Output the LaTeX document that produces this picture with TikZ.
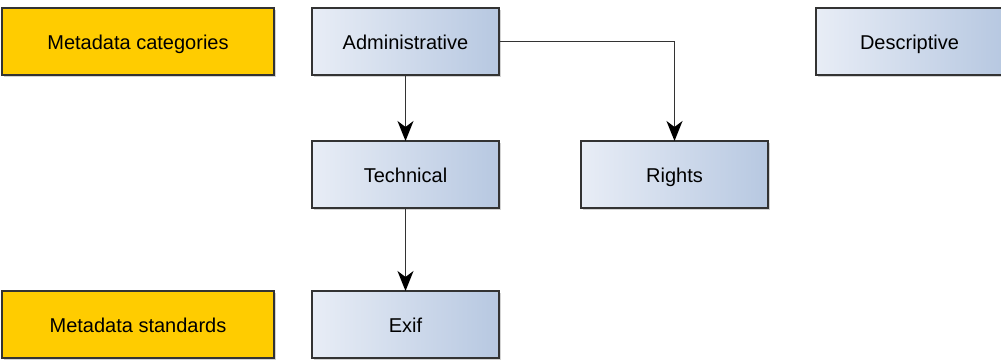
\documentclass[tikz,border=0pt]{standalone}
\usepackage{fontspec}
\setmainfont{Liberation Sans}
\usetikzlibrary{arrows.meta,shadows}
\definecolor{catyellow}{HTML}{FFCC00}
\definecolor{boxleft}{HTML}{E8EDF6}
\definecolor{boxright}{HTML}{B7C8E1}
\definecolor{edge}{HTML}{333333}
\begin{document}
\begin{tikzpicture}[x=1pt,y=-1pt,
  every node/.style={font=\fontsize{20}{22}\selectfont, inner sep=0pt, outer sep=0pt,
    text height=16pt, text depth=0pt},
  boxbase/.style={draw=edge, line width=1.5pt, minimum height=67pt,
    drop shadow={shadow xshift=1.5pt, shadow yshift=-1.5pt, opacity=0.35, fill=gray}},
  catbox/.style={boxbase, fill=catyellow, minimum width=272pt},
  itembox/.style={boxbase, left color=boxleft, right color=boxright, minimum width=187pt},
  link/.style={draw=edge, line width=1.8pt, -{Stealth[length=20pt,width=16pt,inset=6pt,color=black]}}
]
\useasboundingbox (0,0) rectangle (1001,359);
\begin{scope}
\clip (0,0) rectangle (1001,359);
\node[catbox] (cat) at (138,41.5) {Metadata categories};
\node[catbox] (std) at (138,324.5) {Metadata standards};
\node[itembox] (adm) at (405.5,41.5) {Administrative};
\node[itembox] (des) at (909.5,41.5) {Descriptive};
\node[itembox] (tec) at (405.5,174.5) {Technical};
\node[itembox] (rig) at (674.5,174.5) {Rights};
\node[itembox] (exi) at (405.5,324.5) {Exif};
\end{scope}
\draw[link] (adm.south) -- (tec.north);
\draw[link] (adm.east) -| (rig.north);
\draw[link] (tec.south) -- (exi.north);
\end{tikzpicture}
\end{document}
